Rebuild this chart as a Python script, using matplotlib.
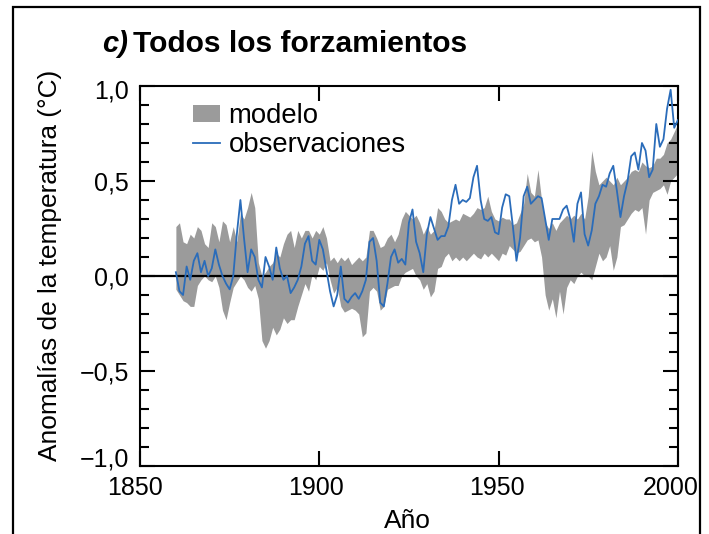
import numpy as np
import matplotlib.pyplot as plt
from matplotlib.patches import Rectangle
from matplotlib.ticker import MultipleLocator
from matplotlib.transforms import ScaledTranslation

plt.rcParams['font.family'] = ['Liberation Sans', 'DejaVu Sans']

# yearly values, 1860-2000
years = np.arange(1860, 2001)

observaciones = [
    0.02, -0.08, -0.10, 0.05, -0.02, 0.08, 0.12, 0.02, 0.08, 0.00,
    0.04, 0.14, 0.06, 0.00, -0.04, -0.07, 0.00, 0.22, 0.40, 0.20,
    0.02, 0.14, 0.10, -0.02, -0.06, 0.10, 0.05, -0.02, 0.15, 0.04,
    -0.02, 0.00, -0.09, -0.06, -0.02, 0.05, 0.17, 0.21, 0.08, 0.06,
    0.19, 0.14, 0.03, -0.08, -0.16, -0.10, 0.05, -0.12, -0.14, -0.11,
    -0.09, -0.12, -0.08, -0.02, 0.18, 0.20, 0.08, -0.14, -0.16, -0.04,
    0.10, 0.14, 0.07, 0.09, 0.06, 0.28, 0.35, 0.18, 0.12, 0.02,
    0.22, 0.31, 0.25, 0.19, 0.21, 0.21, 0.26, 0.40, 0.48, 0.38,
    0.40, 0.39, 0.41, 0.52, 0.58, 0.40, 0.30, 0.29, 0.31, 0.23,
    0.22, 0.36, 0.43, 0.42, 0.26, 0.08, 0.20, 0.42, 0.47, 0.38,
    0.40, 0.42, 0.41, 0.30, 0.19, 0.30, 0.30, 0.30, 0.35, 0.37,
    0.30, 0.18, 0.38, 0.44, 0.22, 0.16, 0.24, 0.38, 0.42, 0.48,
    0.47, 0.54, 0.58, 0.45, 0.31, 0.42, 0.50, 0.63, 0.65, 0.56,
    0.70, 0.66, 0.52, 0.56, 0.80, 0.68, 0.72, 0.88, 0.98, 0.78,
    0.82,
]

modelo_min = [
    -0.07, -0.10, -0.13, -0.14, -0.16, -0.16, -0.05, -0.02, 0.00, -0.02,
    -0.03, 0.00, -0.06, -0.18, -0.23, -0.14, -0.06, -0.03, 0.00, -0.02,
    -0.06, -0.08, -0.05, -0.12, -0.34, -0.38, -0.34, -0.27, -0.31, -0.28,
    -0.22, -0.25, -0.23, -0.23, -0.16, -0.10, -0.04, -0.08, 0.01, -0.02,
    0.05, 0.03, 0.07, -0.02, -0.09, -0.06, -0.16, -0.19, -0.18, -0.17,
    -0.18, -0.20, -0.32, -0.30, -0.08, -0.06, -0.08, -0.18, -0.16, -0.07,
    -0.06, -0.05, -0.05, 0.00, 0.02, 0.03, 0.04, 0.00, -0.02, -0.07,
    -0.04, -0.11, -0.08, 0.04, 0.05, 0.10, 0.12, 0.08, 0.10, 0.08,
    0.10, 0.08, 0.10, 0.12, 0.10, 0.09, 0.12, 0.10, 0.12, 0.10,
    0.08, 0.12, 0.11, 0.16, 0.14, 0.12, 0.13, 0.16, 0.19, 0.20,
    0.18, 0.19, 0.10, -0.10, -0.18, -0.12, -0.22, -0.08, -0.20, -0.06,
    -0.02, -0.04, 0.00, 0.02, 0.00, 0.00, -0.02, 0.05, 0.12, 0.08,
    0.10, 0.16, 0.03, 0.10, 0.26, 0.27, 0.30, 0.33, 0.35, 0.34,
    0.36, 0.22, 0.40, 0.44, 0.45, 0.46, 0.48, 0.43, 0.50, 0.52,
    0.54,
]

modelo_max = [
    0.26, 0.28, 0.18, 0.17, 0.22, 0.20, 0.26, 0.24, 0.17, 0.15,
    0.28, 0.26, 0.18, 0.29, 0.27, 0.18, 0.26, 0.18, 0.33, 0.30,
    0.36, 0.44, 0.36, 0.07, 0.00, 0.02, 0.05, 0.07, 0.12, 0.10,
    0.17, 0.22, 0.24, 0.15, 0.24, 0.20, 0.24, 0.24, 0.20, 0.24,
    0.22, 0.26, 0.20, 0.08, 0.10, 0.07, 0.10, 0.08, 0.10, 0.06,
    0.08, 0.10, 0.08, 0.10, 0.24, 0.24, 0.20, 0.15, 0.16, 0.20,
    0.22, 0.18, 0.22, 0.30, 0.34, 0.32, 0.30, 0.32, 0.28, 0.22,
    0.26, 0.22, 0.24, 0.36, 0.34, 0.30, 0.28, 0.29, 0.30, 0.29,
    0.33, 0.32, 0.31, 0.33, 0.36, 0.35, 0.36, 0.42, 0.34, 0.30,
    0.29, 0.31, 0.30, 0.30, 0.27, 0.28, 0.33, 0.38, 0.54, 0.44,
    0.42, 0.56, 0.40, 0.28, 0.25, 0.28, 0.24, 0.28, 0.30, 0.32,
    0.30, 0.32, 0.30, 0.33, 0.30, 0.42, 0.66, 0.55, 0.48, 0.50,
    0.52, 0.50, 0.48, 0.52, 0.48, 0.50, 0.52, 0.55, 0.56, 0.55,
    0.60, 0.58, 0.57, 0.58, 0.62, 0.62, 0.64, 0.70, 0.72, 0.76,
    0.80,
]

xticks = [1850, 1900, 1950, 2000]
yticks = [-1.0, -0.5, 0.0, 0.5, 1.0]
ytick_labels = ['\u22121,0', '\u22120,5', '0,0', '0,5', '1,0']

gris = '#9b9b9b'
azul = '#2a6cba'

fig = plt.figure(figsize=(7.09, 5.34), dpi=100)
ax = fig.add_axes([0.1975, 0.1273, 0.7585, 0.7117])

ax.fill_between(years, modelo_min, modelo_max, color=gris, lw=0, label='modelo')
ax.axhline(0, color='black', lw=1.6, zorder=3)
ax.plot(years, observaciones, color=azul, lw=1.3, zorder=4, label='observaciones')

ax.set_xlim(1850, 2000)
ax.set_ylim(-1, 1)
ax.set_xticks(xticks)
ax.set_xticklabels([str(t) for t in xticks])
ax.set_yticks(yticks)
ax.set_yticklabels(ytick_labels)
ax.yaxis.set_minor_locator(MultipleLocator(0.1))

ax.tick_params(which='both', direction='in', top=True, right=True,
               width=1.5, labelsize=18)
ax.tick_params(which='major', length=11)
ax.tick_params(which='minor', length=6.5)
ax.tick_params(axis='x', pad=7)
ax.tick_params(axis='y', pad=8)
for s in ax.spines.values():
    s.set_linewidth(1.5)

# nudge the corner labels so they don't collide
def nudge(label, dx, dy):
    label.set_transform(label.get_transform()
                        + ScaledTranslation(dx / 100, dy / 100, fig.dpi_scale_trans))

xl = ax.get_xticklabels()
for lab, dx in zip(xl, [-5, -3, -2, -7]):
    nudge(lab, dx, 0)
yl = ax.get_yticklabels()
nudge(yl[0], 0, 9)
nudge(yl[-1], 0, -3)

ax.legend(loc='upper left', bbox_to_anchor=(0.098, 0.955), frameon=False,
          borderaxespad=0, borderpad=0, fontsize=19.8, handlelength=1.0,
          handleheight=0.55, handletextpad=0.3, labelspacing=0.12)

fig.text(50 / 709, 1 - 265 / 534, 'Anomalías de la temperatura (°C)',
         fontsize=18.9, rotation=90, ha='center', va='center')
fig.text(0.574, 0.012, 'Año', fontsize=19, ha='center', va='baseline')

fig.text(0.144, 0.903, 'c)', fontsize=21, fontweight='bold', style='italic',
         va='baseline')
fig.text(0.188, 0.903, 'Todos los forzamientos', fontsize=21.6,
         fontweight='bold', va='baseline')

fig.patches.append(Rectangle((0.019, -0.05), 0.968, 1.037, transform=fig.transFigure,
                             fill=False, lw=1.6, edgecolor='black'))

fig.savefig('out.png', dpi=100)
